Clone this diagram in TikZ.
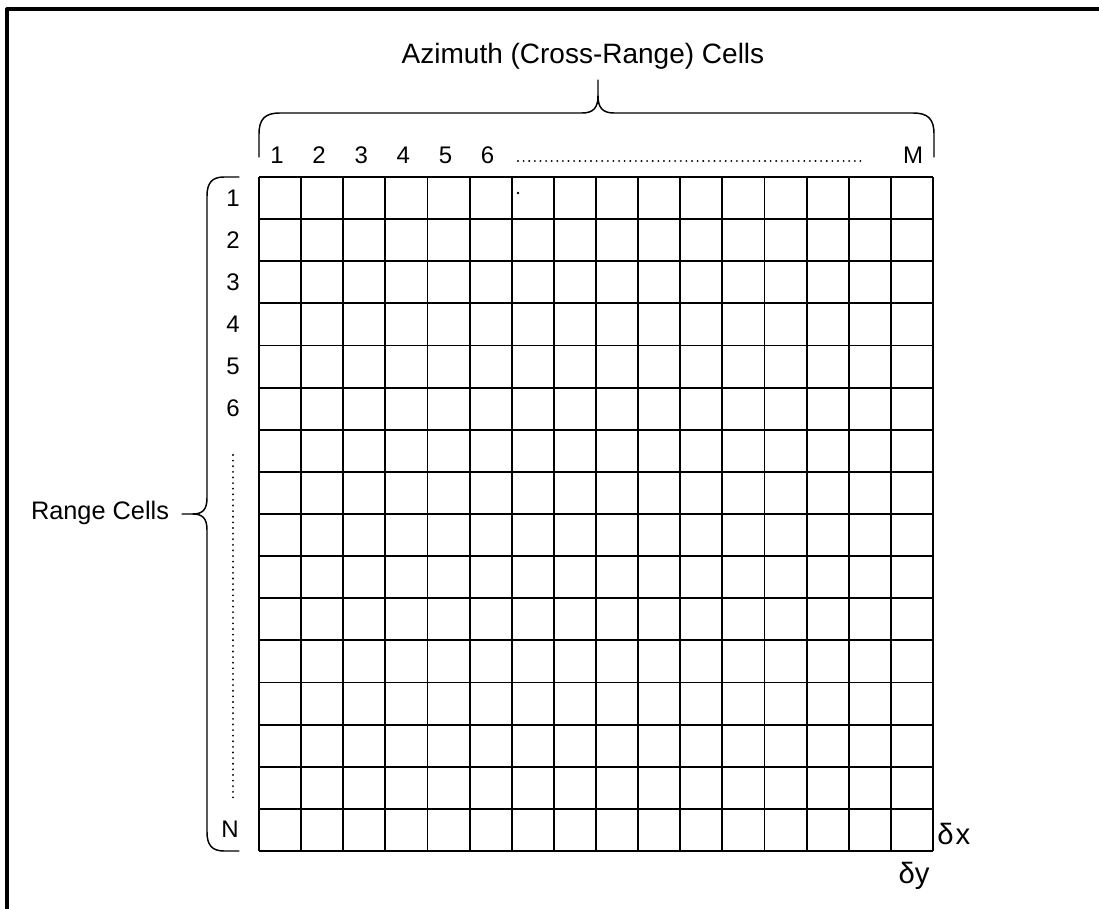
\documentclass[tikz,border=0pt]{standalone}
\usepackage{fontspec}
\setmainfont{Liberation Sans}
\begin{document}
\begin{tikzpicture}[x=0.75pt,y=-0.75pt, line join=round,
 gridline/.style={line width=1.4pt},
 bracket/.style={line width=1.1pt, line cap=round},
 lbl/.style={font=\fontsize{18}{21}\selectfont, inner sep=0pt},
 dotline/.style={line width=1.6pt, dash pattern=on 0.01pt off 4.2pt, line cap=round}]
\useasboundingbox (0,0) rectangle (1099,909);
\fill[white] (0,0) rectangle (1099,909);
\draw[line width=2.4pt] (1100,9) -- (7,9) -- (7,910);
% grid
\foreach \i in {0,...,16} {
  \draw[gridline] ({259+\i*42.125},177) -- ({259+\i*42.125},851);
  \draw[gridline] (259,{177+\i*42.125}) -- (933,{177+\i*42.125});
}
\fill (518,193) circle (1.4);
% top labels
\node[lbl, font=\fontsize{21}{24}\selectfont] (az) at (583,56) {Azimuth (Cross-Range) Cells};
\foreach \i in {1,...,6} {
  \node[lbl] (c\i) at ({277+(\i-1)*42.125},155) {\i};
}
\node[lbl] (cM) at (913,155) {M};
\coordinate (td1) at (518,161);
\coordinate (td2) at (865,161);
\draw[dotline] (td1) -- (td2);
% top brace
\draw[bracket] (259,157) -- (259,134) .. controls (259,119) and (265,113) .. (280,113)
  -- (582,113) .. controls (593,113) and (598,108) .. (598,96) -- (598,80);
\draw[bracket] (598,96) .. controls (598,108) and (603,113) .. (614,113)
  -- (913,113) .. controls (928,113) and (934,119) .. (934,134) -- (934,157);
% left labels
\foreach \i in {1,...,6} {
  \node[lbl] (r\i) at (233,{198+(\i-1)*42.125}) {\i};
}
\node[lbl] (rN) at (230,829) {N};
\coordinate (ld1) at (233,455);
\coordinate (ld2) at (233,802);
\draw[dotline] (ld1) -- (ld2);
\node[lbl, font=\fontsize{19}{22}\selectfont] (range) at (100,513) {Range Cells};
% left brace
\draw[bracket] (239,177) -- (224,177) .. controls (212,177) and (207,183) .. (207,196)
  -- (207,498) .. controls (207,509) and (203,514) .. (193,514) -- (182,514);
\draw[bracket] (193,514) .. controls (203,514) and (207,519) .. (207,530)
  -- (207,832) .. controls (207,845) and (212,851) .. (224,851) -- (239,851);
% deltas
\node[lbl, font=\fontsize{22}{25}\selectfont, anchor=west] (dx) at (937,834) {δ\hspace{1.5pt}x};
\node[lbl, font=\fontsize{22}{25}\selectfont] (dy) at (914,876) {δy};
\end{tikzpicture}
\end{document}
